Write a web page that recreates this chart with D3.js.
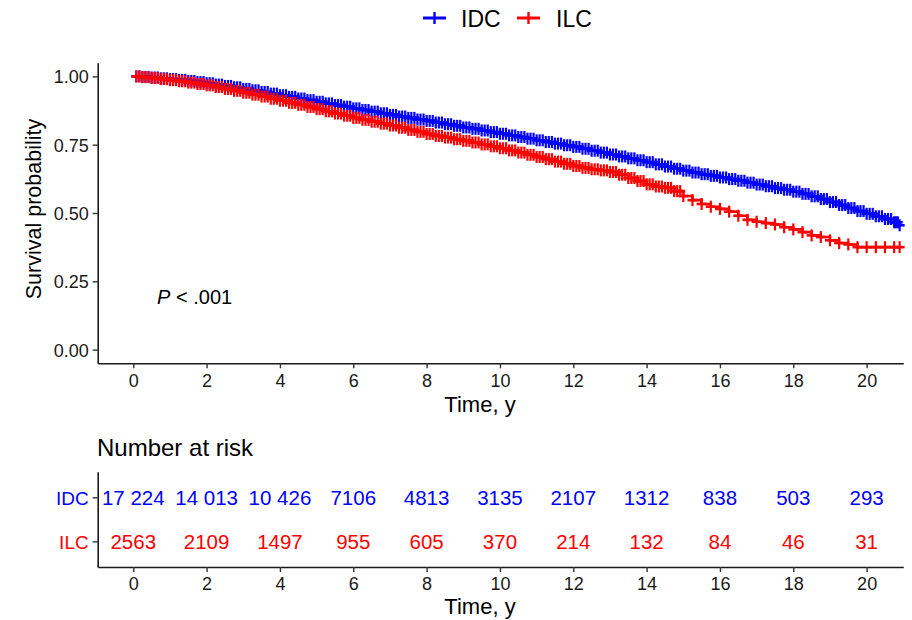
<!DOCTYPE html>
<html>
<head>
<meta charset="utf-8">
<script src="https://cdn.jsdelivr.net/npm/d3@7"></script>
<style>
  html, body { margin: 0; padding: 0; background: #fff; }
  svg { display: block; font-family: "Liberation Sans", Arial, Helvetica, sans-serif; }
</style>
</head>
<body>
<svg id="chart" width="912" height="620"></svg>
<script>
// ---------------- DATA ----------------
const groups = ["IDC", "ILC"];
const groupColors = ["#0000FF", "#FF0000"];

const times = [0,0.25,0.5,0.75,1,1.25,1.5,1.75,2,2.25,2.5,2.75,3,3.25,3.5,3.75,4,4.25,4.5,4.75,
  5,5.25,5.5,5.75,6,6.25,6.5,6.75,7,7.25,7.5,7.75,8,8.25,8.5,8.75,9,9.25,9.5,9.75,
  10,10.25,10.5,10.75,11,11.25,11.5,11.75,12,12.25,12.5,12.75,13,13.25,13.5,13.75,14,14.25,14.5,14.75,
  15,15.25,15.5,15.75,16,16.25,16.5,16.75,17,17.25,17.5,17.75,18,18.25,18.5,18.75,19,19.25,19.5,19.75,
  20,20.25,20.5,20.75,20.9];

const survIDC = [1.000,0.998,0.996,0.993,0.990,0.987,0.983,0.979,0.975,0.970,0.965,0.960,0.954,0.949,0.943,0.937,0.931,0.925,0.919,0.913,
  0.907,0.901,0.895,0.889,0.883,0.877,0.871,0.865,0.859,0.853,0.848,0.842,0.837,0.831,0.825,0.819,0.813,0.808,0.802,0.796,
  0.790,0.784,0.778,0.772,0.766,0.760,0.754,0.748,0.742,0.735,0.728,0.721,0.714,0.707,0.700,0.693,0.686,0.678,0.670,0.662,
  0.655,0.648,0.642,0.636,0.630,0.624,0.618,0.611,0.604,0.598,0.591,0.585,0.578,0.570,0.561,0.551,0.540,0.529,0.518,0.507,
  0.497,0.488,0.478,0.466,0.455];

const survILC = [1.000,0.997,0.994,0.990,0.986,0.982,0.977,0.972,0.967,0.961,0.954,0.947,0.940,0.933,0.926,0.918,0.911,0.903,0.896,0.888,
  0.880,0.872,0.864,0.856,0.848,0.841,0.834,0.827,0.820,0.812,0.804,0.797,0.789,0.782,0.776,0.770,0.764,0.758,0.751,0.744,
  0.737,0.729,0.721,0.713,0.705,0.697,0.688,0.680,0.672,0.665,0.660,0.656,0.650,0.640,0.628,0.617,0.605,0.597,0.592,0.580,
  0.562,0.547,0.533,0.523,0.515,0.505,0.490,0.475,0.468,0.463,0.458,0.448,0.440,0.430,0.418,0.412,0.400,0.390,0.385,0.375,
  0.375,0.375,0.375,0.375,0.375];

// censoring is dense (marks within every interval) up to this time for each group
const denseCensorUntil = [21, 15];

const xTickValues = [0,2,4,6,8,10,12,14,16,18,20];
const yTickValues = [0,0.25,0.5,0.75,1];
const riskTimes = [0,2,4,6,8,10,12,14,16,18,20];
const riskIDC = [17224,14013,10426,7106,4813,3135,2107,1312,838,503,293];
const riskILC = [2563,2109,1497,955,605,370,214,132,84,46,31];

const pLabelItalic = "P";
const pLabelRest = " < .001";
const xTitle = "Time, y";
const yTitle = "Survival probability";
const riskTitle = "Number at risk";

// ---------------- LAYOUT ----------------
const svg = d3.select("#chart");
const axisColor = "#1a1a1a";
const tickTextColor = "#1a1a1a";

const x = d3.scaleLinear().domain([-0.97, 21.0]).range([97.7, 903.3]);
const y = d3.scaleLinear().domain([-0.05, 1.05]).range([363.3, 62.7]);

function fmtRisk(n) {
  if (n >= 10000) {
    const s = String(n);
    return s.slice(0, s.length - 3) + " " + s.slice(s.length - 3);
  }
  return String(n);
}

// ---------------- MAIN PLOT AXES ----------------
const gx = svg.append("g").attr("transform", `translate(0,${y.range()[0]})`)
  .call(d3.axisBottom(x).tickValues(xTickValues).tickSize(5).tickPadding(5).tickSizeOuter(0));
const gy = svg.append("g").attr("transform", `translate(${x.range()[0]},0)`)
  .call(d3.axisLeft(y).tickValues(yTickValues).tickFormat(d3.format(".2f")).tickSize(5).tickPadding(4).tickSizeOuter(0));

[gx, gy].forEach(g => {
  g.select(".domain").attr("stroke", axisColor).attr("stroke-width", 1.6);
  g.selectAll(".tick line").attr("stroke", "#333").attr("stroke-width", 1.4);
  g.selectAll(".tick text").attr("fill", tickTextColor).style("font-size", "18px")
    .style("font-family", '"Liberation Sans", Arial, sans-serif');
});
gy.selectAll(".tick text").attr("dy", "0.36em");
gx.selectAll(".tick text").attr("dy", "0.78em");

svg.append("text").attr("x", 480).attr("y", 412).attr("text-anchor", "middle")
  .style("font-size", "22px").attr("fill", "#000").text(xTitle);
svg.append("text").attr("transform", `translate(41,209) rotate(-90)`).attr("text-anchor", "middle")
  .style("font-size", "21.5px").attr("fill", "#000").text(yTitle);

// ---------------- CURVES ----------------
const line = d3.line().x(d => x(d[0])).y(d => y(d[1])).curve(d3.curveStepAfter);
const seriesData = [survIDC, survILC].map(s => times.map((t, i) => [t, s[i]]));

seriesData.forEach((data, gi) => {
  const g = svg.append("g");
  const col = groupColors[gi];
  g.append("path").datum(data).attr("d", line)
    .attr("fill", "none").attr("stroke", col).attr("stroke-width", 2.6);
  // censor marks: at each step point, plus inside each interval where censoring is dense
  const censor = [];
  data.forEach((d, i) => {
    if (i > 0) censor.push(d);
    if (i < data.length - 1 && d[0] < denseCensorUntil[gi]) {
      const t0 = d[0], t1 = data[i + 1][0];
      censor.push([t0 + (t1 - t0) / 3, d[1]]);
      censor.push([t0 + 2 * (t1 - t0) / 3, d[1]]);
    }
  });
  const marks = g.selectAll("g.mark").data(censor).enter().append("g")
    .attr("transform", d => `translate(${x(d[0])},${y(d[1])})`);
  marks.append("line").attr("x1", -5).attr("x2", 5).attr("y1", 0).attr("y2", 0)
    .attr("stroke", col).attr("stroke-width", 2.6);
  marks.append("line").attr("x1", 0).attr("x2", 0).attr("y1", -6).attr("y2", 6)
    .attr("stroke", col).attr("stroke-width", 2.2);
});

// p-value
const pText = svg.append("text").attr("x", x(0.65)).attr("y", 304)
  .style("font-size", "20px").attr("fill", "#000");
pText.append("tspan").style("font-style", "italic").text(pLabelItalic);
pText.append("tspan").text(pLabelRest);

// ---------------- LEGEND ----------------
const legend = svg.append("g");
const legendItems = [
  { name: groups[0], color: groupColors[0], x0: 423, tx: 461 },
  { name: groups[1], color: groupColors[1], x0: 517, tx: 556 }
];
legendItems.forEach(it => {
  legend.append("line").attr("x1", it.x0).attr("x2", it.x0 + 23).attr("y1", 18).attr("y2", 18)
    .attr("stroke", it.color).attr("stroke-width", 3);
  legend.append("line").attr("x1", it.x0 + 11.5).attr("x2", it.x0 + 11.5).attr("y1", 12).attr("y2", 24)
    .attr("stroke", it.color).attr("stroke-width", 2.4);
  legend.append("text").attr("x", it.tx).attr("y", 26.5).style("font-size", "23px")
    .attr("fill", "#000").text(it.name);
});

// ---------------- RISK TABLE ----------------
svg.append("text").attr("x", 97).attr("y", 456).style("font-size", "24px").attr("fill", "#000").text(riskTitle);

const yr = d3.scalePoint().domain(groups).range([471.7, 567]).padding(0.58);
const grx = svg.append("g").attr("transform", `translate(0,567)`)
  .call(d3.axisBottom(x).tickValues(xTickValues).tickSize(5).tickPadding(5).tickSizeOuter(0));
const gry = svg.append("g").attr("transform", `translate(${x.range()[0]},0)`)
  .call(d3.axisLeft(yr).tickSize(5).tickPadding(4).tickSizeOuter(0));
[grx, gry].forEach(g => {
  g.select(".domain").attr("stroke", axisColor).attr("stroke-width", 1.6);
  g.selectAll(".tick line").attr("stroke", "#333").attr("stroke-width", 1.4);
  g.selectAll(".tick text").style("font-size", "18px")
    .style("font-family", '"Liberation Sans", Arial, sans-serif');
});
grx.selectAll(".tick text").attr("fill", tickTextColor).attr("dy", "0.72em");
gry.selectAll(".tick text").attr("fill", (d, i) => groupColors[i]).attr("dy", "0.36em").style("font-size", "19px");

svg.append("text").attr("x", 480).attr("y", 614).attr("text-anchor", "middle")
  .style("font-size", "22px").attr("fill", "#000").text(xTitle);

[riskIDC, riskILC].forEach((vals, gi) => {
  svg.append("g").selectAll("text").data(vals).enter().append("text")
    .attr("x", (d, i) => x(riskTimes[i]))
    .attr("y", yr(groups[gi]))
    .attr("dy", "0.36em")
    .attr("text-anchor", "middle")
    .style("font-size", "20.5px")
    .attr("fill", groupColors[gi])
    .text(d => fmtRisk(d));
});
</script>
</body>
</html>
